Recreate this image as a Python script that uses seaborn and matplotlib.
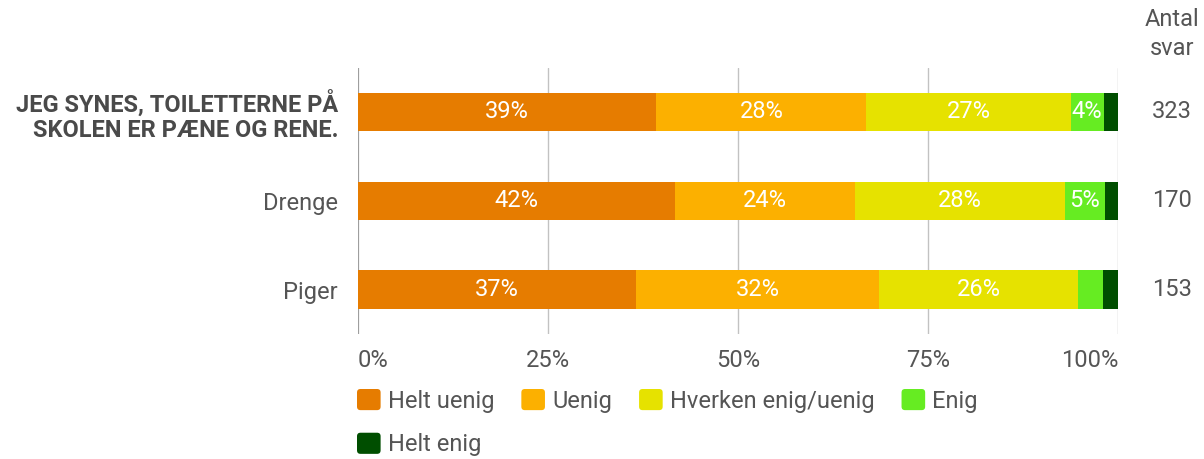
import matplotlib
matplotlib.use("Agg")
import matplotlib.pyplot as plt
import numpy as np
import pandas as pd
import seaborn as sns
from matplotlib.patches import FancyBboxPatch
from matplotlib.legend_handler import HandlerPatch

# ---- data -------------------------------------------------------------
categories = ["JEG SYNES, TOILETTERNE PÅ\nSKOLEN ER PÆNE OG RENE.", "Drenge", "Piger"]
responses = ["Helt uenig", "Uenig", "Hverken enig/uenig", "Enig", "Helt enig"]
helt_uenig = [39.3, 41.8, 36.6]
uenig = [27.6, 23.6, 32.0]
hverken = [26.9, 27.6, 26.1]
enig = [4.3, 5.3, 3.3]
helt_enig = [1.9, 1.7, 2.0]
antal_svar = [323, 170, 153]
x_ticks = [0, 25, 50, 75, 100]
x_tick_labels = ["0%", "25%", "50%", "75%", "100%"]

colors = ["#E67C00", "#FCB000", "#E6E200", "#66EC22", "#004E00"]
text_color = "#555555"
fs = 17

series = [helt_uenig, uenig, hverken, enig, helt_enig]
df = pd.DataFrame({r: v for r, v in zip(responses, series)})
df["kategori"] = categories
cum = df[responses].cumsum(axis=1)

sns.set_theme(style="white")
plt.rcParams["font.family"] = ["Roboto", "DejaVu Sans"]

fig = plt.figure(figsize=(12.04, 4.59), dpi=100)
ax = fig.add_axes([357.5 / 1204, 1 - 334 / 459, 760.5 / 1204, (334 - 67.5) / 459])

# stacked bars: draw cumulative totals from the outermost segment inward
for resp, col in reversed(list(zip(responses, colors))):
    sns.barplot(x=cum[resp], y=df["kategori"], color=col, orient="h",
                width=0.43, errorbar=None, ax=ax, saturation=1, zorder=3,
                linewidth=0, edgecolor="none")

# segment value labels
for i in range(len(categories)):
    start = 0.0
    for resp in responses:
        v = df.loc[i, resp]
        if v >= 3.5:
            ax.text(start + v / 2, i, f"{v:.0f}%", ha="center", va="center",
                    color="white", fontsize=fs, zorder=5)
        start += v

# grid and axes
ax.set_xlim(0, 100)
ax.set_ylim(2.5, -0.5)
for xv in x_ticks:
    ax.axvline(xv, color="#9e9e9e" if xv == 0 else "#c2c2c2",
               lw=1.6 if xv == 0 else 1.0, zorder=1)
for s in ax.spines.values():
    s.set_visible(False)
ax.set_xlabel("")
ax.set_ylabel("")
ax.set_xticks(x_ticks)
ax.set_xticklabels(x_tick_labels, fontsize=fs, color=text_color)
ax.tick_params(axis="x", length=0, pad=11)
xl = ax.get_xticklabels()
xl[0].set_ha("left")
xl[-1].set_ha("right")
ax.set_yticks(range(len(categories)))
ax.set_yticklabels(categories, fontsize=fs, color=text_color)
ax.tick_params(axis="y", length=0, pad=14)
yl = ax.get_yticklabels()
yl[0].set_fontweight("bold")
yl[0].set_color("#4a4a4a")
yl[0].set_linespacing(1.12)

# response counts on the right
tr = ax.get_yaxis_transform()
for i, n in enumerate(antal_svar):
    ax.text(1.071, i, str(n), transform=tr, ha="center", va="center",
            fontsize=fs, color=text_color)
fig.text(1172 / 1204, 1 - 34 / 459, "Antal\nsvar", ha="center", va="center",
         fontsize=fs, color=text_color, linespacing=1.3)


# legend with rounded swatches
class RoundHandler(HandlerPatch):
    def create_artists(self, legend, orig_handle, xdescent, ydescent,
                       width, height, fontsize, trans):
        p = FancyBboxPatch((-xdescent, -ydescent), width, height,
                           boxstyle="round,pad=0,rounding_size=2.5",
                           facecolor=orig_handle.get_facecolor(),
                           edgecolor="none", transform=trans)
        return [p]


# legend columns are filled top-to-bottom, so order entries for row-wise reading
leg_order = [0, 4, 1, 2, 3]
handles = [plt.Rectangle((0, 0), 1, 1, facecolor=colors[k]) for k in leg_order]
labels = [responses[k] for k in leg_order]
leg = fig.legend(handles, labels, loc="upper left",
                 bbox_to_anchor=(357 / 1204, 1 - 389 / 459), ncol=4,
                 frameon=False, fontsize=fs, handlelength=1.0,
                 handleheight=1.0, handletextpad=0.3, columnspacing=1.15,
                 labelspacing=0.85, borderpad=0, borderaxespad=0,
                 handler_map={plt.Rectangle: RoundHandler()})
for t in leg.get_texts():
    t.set_color(text_color)

fig.savefig("out.png", dpi=100, facecolor="white")
